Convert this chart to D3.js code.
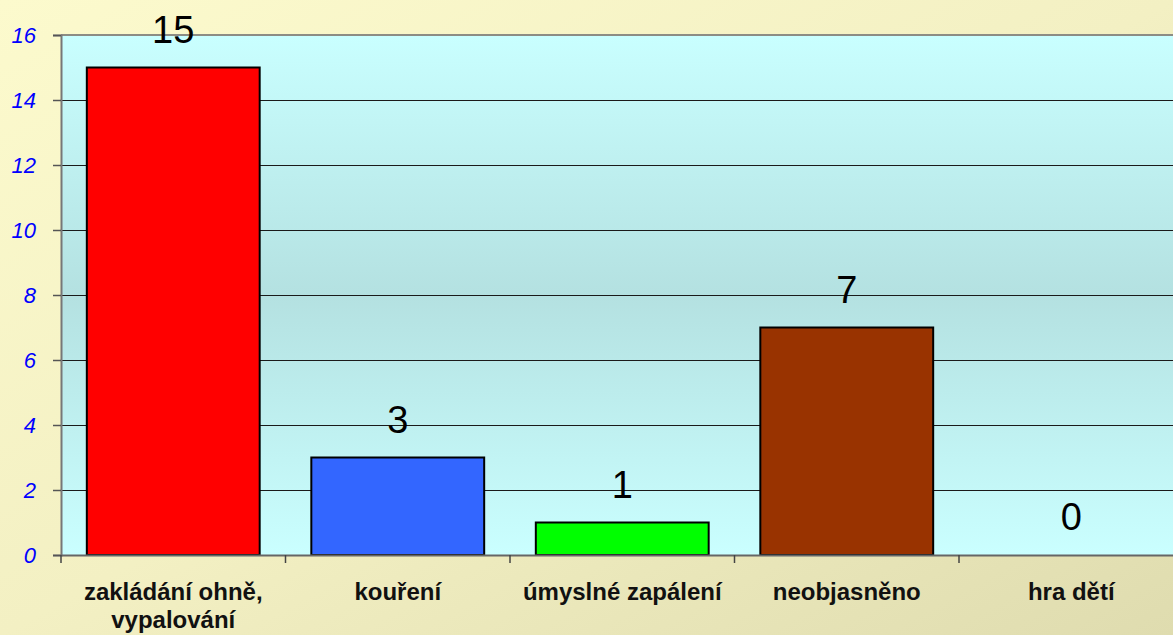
<!DOCTYPE html>
<html>
  <head>
    <meta charset="utf-8">
    <title>příčiny požárů</title>
    <script src="https://d3js.org/d3.v7.min.js"></script>
  </head>
  <style>
    body { margin: 0; }
    .grid-line { stroke: #1a1a1a; stroke-width: 1px; }
    .x-label { font-family: Arial, "Liberation Sans", sans-serif; font-weight: bold; font-size: 24px; fill: #111; }
    .value-label { font-family: Arial, "Liberation Sans", sans-serif; font-size: 38px; fill: #000; }
  </style>
  <body>
    <script>
      const width = 1173;
      const height = 635;
      const plotLeft = 61, plotTop = 35, plotBottom = 555;
      const bandStep = 224.5;

      // data
      const categories = [["zakládání ohně,", "vypalování"], ["kouření"], ["úmyslné zapálení"], ["neobjasněno"], ["hra dětí"]];
      const values = [15, 3, 1, 7, 0];
      const barColors = ["#ff0000", "#3366ff", "#00ff00", "#993300", "#cc99ff"];
      const yTicks = [0, 2, 4, 6, 8, 10, 12, 14, 16];

      const keys = categories.map(function(c, i) { return i; });

      const xScale = d3.scaleBand()
        .domain(keys)
        .range([plotLeft, plotLeft + bandStep * keys.length])
        .padding(0);

      const yScale = d3.scaleLinear()
        .domain([0, 16])
        .range([plotBottom, plotTop]);

      const barWidth = xScale.bandwidth() * 0.77;

      const svg = d3.select("body")
        .append("svg")
          .attr("width", width)
          .attr("height", height);

      const defs = svg.append("defs");
      const bg = defs.append("linearGradient")
          .attr("id", "bg").attr("x1", 0).attr("y1", 0).attr("x2", 1).attr("y2", 1);
      bg.append("stop").attr("offset", "0%").attr("stop-color", "#fcfacd");
      bg.append("stop").attr("offset", "50%").attr("stop-color", "#f3f0c3");
      bg.append("stop").attr("offset", "100%").attr("stop-color", "#dfdcaf");

      const plotBg = defs.append("linearGradient")
          .attr("id", "plotbg").attr("x1", 0).attr("y1", 0).attr("x2", 0).attr("y2", 1);
      plotBg.append("stop").attr("offset", "0%").attr("stop-color", "#c9ffff");
      plotBg.append("stop").attr("offset", "50%").attr("stop-color", "#b4e1e1");
      plotBg.append("stop").attr("offset", "100%").attr("stop-color", "#caffff");

      svg.append("rect")
          .attr("width", width).attr("height", height)
          .attr("fill", "url(#bg)");

      svg.append("rect")
          .attr("x", plotLeft).attr("y", plotTop)
          .attr("width", xScale.range()[1] - plotLeft)
          .attr("height", plotBottom - plotTop)
          .attr("fill", "url(#plotbg)");

      // grid lines
      svg.append("g")
        .selectAll("line")
        .data(yTicks.filter(function(t) { return t > 0 && t < 16; }))
        .enter()
        .append("line")
          .classed("grid-line", true)
          .attr("x1", plotLeft).attr("x2", width)
          .attr("y1", function(d) { return yScale(d) + 0.5; })
          .attr("y2", function(d) { return yScale(d) + 0.5; });

      // top border
      svg.append("line")
          .attr("x1", plotLeft).attr("x2", width)
          .attr("y1", plotTop).attr("y2", plotTop)
          .attr("stroke", "#8c8c84").attr("stroke-width", 2);

      // bars
      svg.append("g")
        .selectAll("rect")
        .data(values)
        .enter()
        .append("rect")
          .attr("x", function(d, i) { return xScale(i) + (xScale.bandwidth() - barWidth) / 2; })
          .attr("y", function(d) { return yScale(d); })
          .attr("width", barWidth)
          .attr("height", function(d) { return plotBottom - yScale(d); })
          .attr("fill", function(d, i) { return barColors[i]; })
          .attr("stroke", "#000")
          .attr("stroke-width", 2);

      // value labels
      svg.append("g")
        .selectAll("text")
        .data(values)
        .enter()
        .append("text")
          .classed("value-label", true)
          .attr("text-anchor", "middle")
          .attr("x", function(d, i) { return xScale(i) + xScale.bandwidth() / 2; })
          .attr("y", function(d) { return yScale(d) - 25; })
          .text(function(d) { return d; });

      // y axis
      const yAxis = d3.axisLeft(yScale)
        .tickValues(yTicks)
        .tickSize(8)
        .tickPadding(17)
        .tickFormat(d3.format("d"));

      const yg = svg.append("g")
          .attr("transform", "translate(" + plotLeft + ",0)")
          .call(yAxis);
      yg.attr("font-size", null).attr("font-family", null);
      yg.select(".domain").attr("stroke", "#777").attr("stroke-width", 2);
      yg.selectAll(".tick line").attr("stroke", "#555").attr("stroke-width", 1.5);
      yg.selectAll(".tick text")
          .style("font-family", "Arial, 'Liberation Sans', sans-serif")
          .style("font-style", "italic")
          .style("font-size", "22px")
          .style("fill", "#0000ff");

      // x axis
      const xAxis = d3.axisBottom(xScale)
        .tickSize(0)
        .tickFormat("");

      const xg = svg.append("g")
          .attr("transform", "translate(0," + plotBottom + ")")
          .call(xAxis);
      xg.select(".domain").attr("stroke", "#666").attr("stroke-width", 2);

      // category boundary ticks
      xg.selectAll("line.cat-tick")
        .data(keys)
        .enter()
        .append("line")
          .attr("x1", function(d) { return xScale(d); })
          .attr("x2", function(d) { return xScale(d); })
          .attr("y1", 0).attr("y2", 8)
          .attr("stroke", "#444").attr("stroke-width", 1.5);

      const labels = svg.append("g")
        .selectAll("text")
        .data(categories)
        .enter()
        .append("text")
          .classed("x-label", true)
          .attr("text-anchor", "middle")
          .attr("x", function(d, i) { return xScale(i) + xScale.bandwidth() / 2; })
          .attr("y", 600);

      labels.selectAll("tspan")
        .data(function(d) { return d; })
        .enter()
        .append("tspan")
          .attr("x", function() { return d3.select(this.parentNode).attr("x"); })
          .attr("dy", function(d, i) { return i === 0 ? 0 : 28; })
          .text(function(d) { return d; });
    </script>
  </body>
</html>
